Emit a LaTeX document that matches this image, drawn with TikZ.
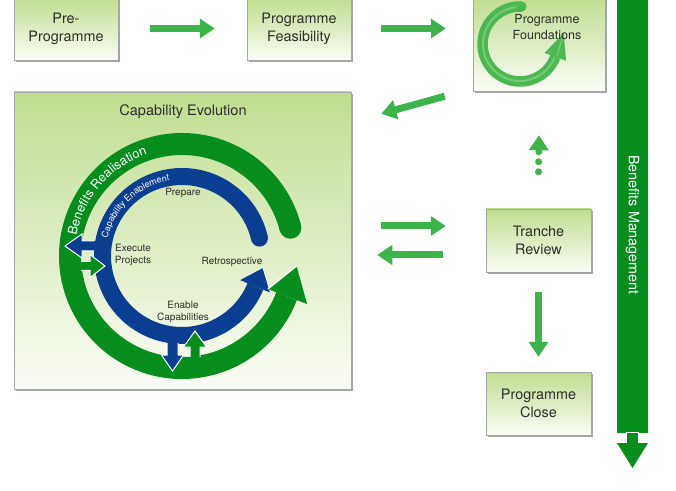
\documentclass[tikz,border=0pt]{standalone}
\usepackage{fontspec}
\setmainfont{TeX Gyre Heros}
\usetikzlibrary{arrows.meta,calc,shadows,decorations.text}
\definecolor{boxtop}{RGB}{192,221,142}
\definecolor{boxbot}{RGB}{250,253,246}
\definecolor{arrowgreen}{RGB}{61,180,74}
\definecolor{dkgreen}{RGB}{6,142,28}
\definecolor{ringblue}{RGB}{10,62,145}
\definecolor{txt}{RGB}{45,45,45}
\definecolor{fgreen}{RGB}{76,185,80}
\definecolor{fhigh}{RGB}{118,204,120}
\tikzset{
  box/.style={draw=black!35, line width=0.5pt, top color=boxtop, bottom color=boxbot,
    drop shadow={shadow xshift=1.6pt, shadow yshift=-1.6pt, opacity=0.5, fill=black!70},
    text=txt, align=center, font=\fontsize{14.4}{18}\selectfont, inner sep=0pt},
  blockarrow/.style={draw=arrowgreen, line width=7pt, -{Triangle[width=19pt,length=15pt]}},
  lab/.style={text=txt, align=center, font=\fontsize{10}{12}\selectfont},
  whiteedge/.style={draw=white, line width=1pt},
}
\begin{document}
\begin{tikzpicture}[x=1pt,y=1pt]
\useasboundingbox (0,0) rectangle (676,490);

% boxes
\node[box, minimum width=104pt, minimum height=63pt] (pre) at (66,461.5) {Pre-\\Programme};
\node[box, minimum width=104pt, minimum height=63pt] (feas) at (299,461.5) {Programme\\Feasibility};
\node[box, minimum width=132pt, minimum height=94pt] (found) at (539,446) {};
\node[box, minimum width=337pt, minimum height=297pt] (cap) at (182.5,249.5) {};
\node[box, minimum width=105pt, minimum height=63pt] (tranche) at (538.5,249.5) {Tranche\\Review};
\node[box, minimum width=105pt, minimum height=63pt] (close) at (538.5,86.5) {Programme\\Close};

% foundations circular arrow
\begin{scope}[shift={(520,446)}]
  \draw[fgreen, line width=10.5pt] (88:37.5) arc[start angle=88, end angle=340, radius=37.5];
  \fill[fgreen] (88:37.5) circle[radius=5.25];
  \fill[fgreen] (-20:26) -- (-20:49) -- (13.7:45) -- cycle;
  \draw[fhigh, line width=2pt, line cap=round] (96:37) arc[start angle=96, end angle=338, radius=37];
  \draw[fhigh, line width=1.2pt, line cap=round] (-18:39) -- (9:43);
\end{scope}
\node[text=txt, align=center, font=\fontsize{12.5}{16}\selectfont] (foundtxt) at (547,463) {Programme\\Foundations};

% title of capability evolution
\node[text=txt, font=\fontsize{14.5}{17}\selectfont] (title) at (183,378) {Capability Evolution};

% connectors
\draw[blockarrow] ($(pre.east)+(32,0)$) -- ($(feas.west)+(-32,0)$);
\draw[blockarrow] ($(feas.east)+(30,0)$) -- ($(found.west |- feas.east)+(-27,0)$);
\draw[blockarrow] ($(found.south west)+(-28,-5)$) -- ($(cap.north east)+(30,-22)$);
\draw[blockarrow] ($(cap.east)+(30,14.5)$) -- ($(tranche.west)+(-40,14.5)$);
\draw[blockarrow] ($(tranche.west)+(-43,-14.5)$) -- ($(cap.east)+(26,-14.5)$);
\draw[blockarrow] ($(tranche.south)+(0,-20)$) -- ($(close.north)+(0,15)$);
\draw[draw=arrowgreen, line width=7pt, line cap=round, dash pattern=on 0pt off 10pt,
      -{Triangle[width=19pt,length=15pt]}] ($(tranche.north)+(0,37)$) -- ($(found.south)+(0,-44)$);

% benefits management bar
\node[fill=dkgreen, minimum width=31pt, minimum height=438pt, inner sep=0pt] (bm) at (632.5,275) {};
\fill[dkgreen] (626,58) -- (626,47) -- (617,47) -- (632.5,22) -- (648,47) -- (639,47) -- (639,58) -- cycle;
\draw[whiteedge, line width=1.4pt] (617,56.5) -- (626,56.5) -- (626,47);
\draw[whiteedge, line width=1.4pt] (648,56.5) -- (639,56.5) -- (639,47);
\draw[whiteedge, line width=1.4pt] (626,57.5) -- (639,57.5);
\node[rotate=-90, text=white, font=\fontsize{14.3}{14.3}\selectfont] (bmtxt) at (632.5,265) {Benefits Management};

% capability evolution cycle
\begin{scope}[shift={(182,234)}]
  % green outer ring
  \draw[dkgreen, line width=22pt] (14.6:112) arc[start angle=14.6, end angle=339, radius=112];
  \fill[dkgreen] (14.6:112) circle[radius=11];
  % blue inner ring
  \draw[ringblue, line width=17pt] (13:79.5) arc[start angle=13, end angle=337.5, radius=79.5];
  \fill[ringblue] (13:79.5) circle[radius=8.5];
  \fill[ringblue] (-22.5:63) -- (-22.5:96) -- (-8.4:82) -- cycle;
  \draw[whiteedge] (-22.5:96) -- (-8.4:82);
  \fill[dkgreen] (-21:92) -- (-21:134) -- (-5:115) -- cycle;
  \draw[whiteedge, line width=1.3pt] (-21:92) -- (-5:115);

  % green arrow to the right (left side)
  \fill[dkgreen] (-103,-5.5) -- (-92,-5.5) -- (-92,1.5) -- (-77,-10) -- (-92,-21.5) -- (-92,-14.5) -- (-103,-14.5) -- cycle;
  \draw[whiteedge] (-101,-5.5) -- (-92,-5.5) -- (-92,1.5) -- (-77,-10) -- (-92,-21.5) -- (-92,-14.5) -- (-101,-14.5);
  % blue arrow to the left
  \fill[ringblue] (-85,15) -- (-100,15) -- (-100,22) -- (-117,10) -- (-100,-2) -- (-100,5) -- (-85,5) -- cycle;
  \draw[whiteedge] (-88,15) -- (-100,15) -- (-100,22) -- (-117,10) -- (-100,-2) -- (-100,5) -- (-88,5);
  % blue arrow down
  \fill[ringblue] (-15,-84) -- (-15,-99) -- (-20.5,-99) -- (-9.5,-115) -- (1.5,-99) -- (-4,-99) -- (-4,-84) -- cycle;
  \draw[whiteedge] (-15,-87) -- (-15,-99) -- (-20.5,-99) -- (-9.5,-115) -- (1.5,-99) -- (-4,-99) -- (-4,-87);
  % green arrow up
  \fill[dkgreen] (8,-103) -- (8,-91) -- (1.5,-91) -- (13,-75) -- (24.5,-91) -- (18,-91) -- (18,-103) -- cycle;
  \draw[whiteedge] (8,-101) -- (8,-91) -- (1.5,-91) -- (13,-75) -- (24.5,-91) -- (18,-91) -- (18,-101);

  % ring texts
  \path[decorate, decoration={text along path, text align=center,
     text={|\color{white}\fontsize{12.8}{12.8}\selectfont|Benefits Realisation}}]
     (176:107.5) arc[start angle=176, end angle=102, radius=107.5];
  \path[decorate, decoration={text along path, text align=center,
     text={|\color{white}\fontsize{9}{9}\selectfont|Capability Enablement}}]
     (175:76.5) arc[start angle=175, end angle=91, radius=76.5];
\end{scope}

% inner labels
\node[lab] (prep) at (183,297) {Prepare};
\node[lab] (exec) at (133,235) {Execute\\Projects};
\node[lab] (retro) at (232,228) {Retrospective};
\node[lab] (enab) at (183,178) {Enable\\Capabilities};
\end{tikzpicture}
\end{document}
